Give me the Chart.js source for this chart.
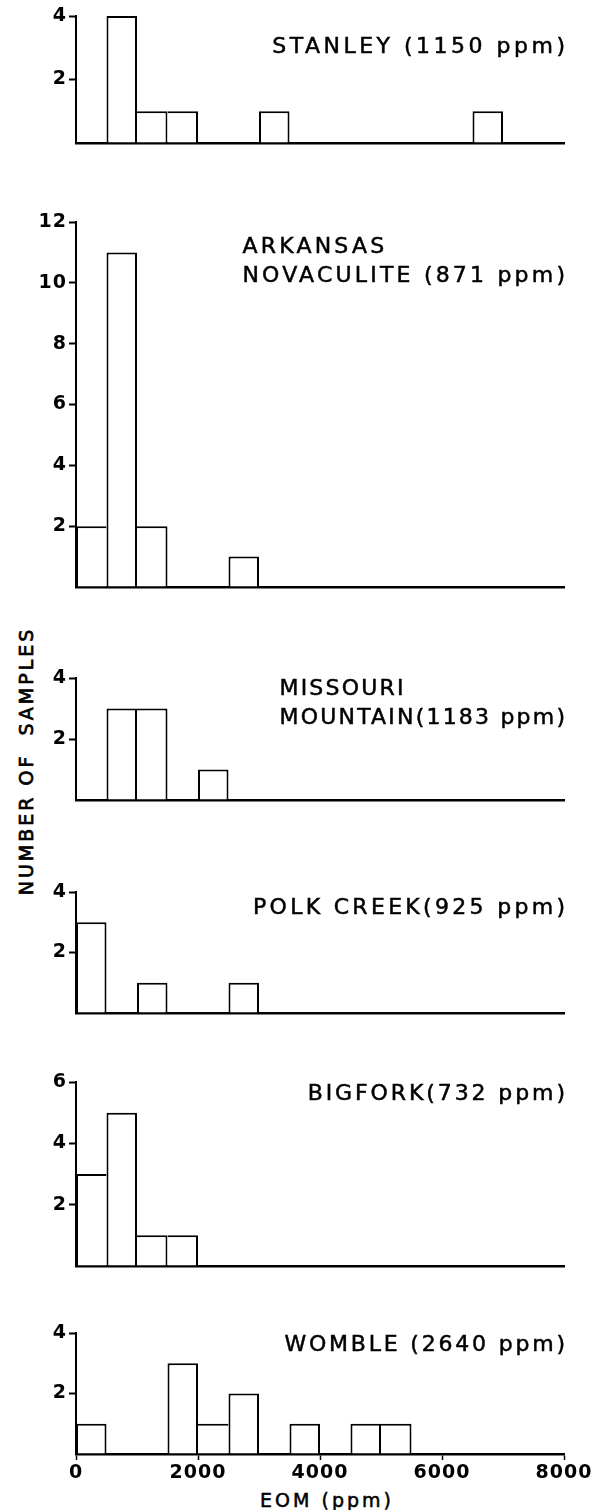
<!DOCTYPE html>
<html><head><meta charset="utf-8">
<script src="https://cdn.jsdelivr.net/npm/chart.js@4/dist/chart.umd.min.js"></script>
<style>
html,body{margin:0;padding:0;background:#fff;}
body{width:602px;height:1510px;position:relative;overflow:hidden;font-family:'DejaVu Sans',sans-serif;color:#000;}
canvas{position:absolute;left:0;}
.t{position:absolute;font-size:22px;letter-spacing:3px;line-height:28.5px;white-space:pre;text-align:left;-webkit-text-stroke:0.5px #000;}
#ytitle{position:absolute;left:26px;top:761px;font-size:19px;letter-spacing:3px;line-height:1;white-space:pre;transform:translate(-50%,-50%) rotate(-90deg);-webkit-text-stroke:0.7px #000;}
#xtitle{position:absolute;left:327px;top:1489px;font-size:19px;letter-spacing:3px;line-height:22px;white-space:pre;transform:translateX(-50%);-webkit-text-stroke:0.5px #000;}
</style></head><body>
<div id="ytitle">NUMBER OF  SAMPLES</div>
<div id="xtitle">EOM (ppm)</div>
<script>
// ---- data ----
const binStarts = [0,500,1000,1500,2000,2500,3000,3500,4000,4500,5000,5500,6000,6500,7000,7500];
const binWidth = 500;
const stanley  = [0,4,1,1,0,0,1,0,0,0,0,0,0,1,0,0];
const arkansas = [2,11,2,0,0,1,0,0,0,0,0,0,0,0,0,0];
const missouri = [0,3,3,0,1,0,0,0,0,0,0,0,0,0,0,0];
const polk     = [3,0,1,0,0,1,0,0,0,0,0,0,0,0,0,0];
const bigfork  = [3,5,1,1,0,0,0,0,0,0,0,0,0,0,0,0];
const womble   = [1,0,0,3,1,2,0,1,0,1,1,0,0,0,0,0];
const yMaxes   = [4,12,4,4,6,4];
const yStep    = 2;
const xTickValues = [0,2000,4000,6000,8000];
const titles = [
  ['STANLEY (1150 ppm)'],
  ['ARKANSAS','NOVACULITE (871 ppm)'],
  ['MISSOURI','MOUNTAIN(1183 ppm)'],
  ['POLK CREEK(925 ppm)'],
  ['BIGFORK(732 ppm)'],
  ['WOMBLE (2640 ppm)']
];
const seriesList = [stanley, arkansas, missouri, polk, bigfork, womble];

// ---- layout (pixels / styles) ----
const layoutPanels = [
  {top:16,  base:143,  titleTop:32,   ls:3.5},
  {top:222, base:587,  titleTop:232,  ls:3.2},
  {top:678, base:800,  titleTop:674,  ls:2.2},
  {top:892, base:1013, titleTop:893,  ls:3.3},
  {top:1082,base:1266, titleTop:1079, ls:2.9},
  {top:1333,base:1454, titleTop:1330, ls:2.8}
];
const PADTOP = 14;

function edge(v, n, side){
  if (!n) return 2;
  if (n > v) return 0;
  if (n < v) return 2;
  return side === 'right' ? 2 : 0;
}

const spacingPlugin = {
  id:'spacing',
  beforeDraw(chart){ chart.ctx.letterSpacing = '1px'; }
};

seriesList.forEach((counts, p) => {
  const L = layoutPanels[p];
  const isLast = p === seriesList.length - 1;
  const H = isLast ? (1510 - L.base) : 4;
  const cv = document.createElement('canvas');
  const h = L.base - L.top + PADTOP + H;
  cv.width = 602; cv.height = h;
  cv.style.width = '602px'; cv.style.height = h + 'px';
  cv.style.top = (L.top - PADTOP) + 'px';
  document.body.appendChild(cv);

  const div = document.createElement('div');
  div.className = 't';
  div.style.letterSpacing = L.ls + 'px';
  div.style.right = (37 - L.ls) + 'px';
  div.style.top = L.titleTop + 'px';
  div.textContent = titles[p].join('\n');
  document.body.appendChild(div);

  new Chart(cv, {
    type:'bar',
    data:{datasets:[{
      data: counts.map((v,i) => ({x: binStarts[i] + binWidth/2, y: v})),
      backgroundColor:'#fff',
      borderColor:'#000',
      borderSkipped:'start',
      borderWidth: ctx => {
        if (ctx.type !== 'data') return 2;
        const i = ctx.dataIndex, v = counts[i];
        return {top:2, left:edge(v, counts[i-1], 'left'), right:edge(v, counts[i+1], 'right'), bottom:0};
      },
      barPercentage:1,
      categoryPercentage:1,
      inflateAmount:0
    }]},
    options:{
      responsive:false, animation:false, devicePixelRatio:1,
      layout:{padding:{top:PADTOP,left:0,right:38,bottom:0}},
      plugins:{legend:{display:false}, tooltip:{enabled:false}},
      scales:{
        x:{
          type:'linear', min:0, max:8000, offset:false,
          afterBuildTicks: s => { s.ticks = xTickValues.map(v => ({value:v})); },
          grid:{display:isLast, offset:false, drawOnChartArea:false, tickLength:6, tickWidth:1.5, tickColor:'#000'},
          border:{display:true, color:'#000', width:2.5},
          ticks:{display:isLast, callback:v => String(v), font:{family:'DejaVu Sans', size:19, weight:'bold'}, color:'#000', padding:2, maxRotation:0, autoSkip:false},
          afterFit: s => { s.height = H; s.paddingLeft = 0; s.paddingRight = 0; }
        },
        y:{
          min:0, max:yMaxes[p],
          grid:{drawOnChartArea:false, offset:false, tickLength:7, tickWidth:2,
                tickColor: c => (c.tick && c.tick.value === 0) ? 'rgba(0,0,0,0)' : '#000'},
          border:{color:'#000', width:2},
          ticks:{stepSize:yStep, callback: v => v === 0 ? '' : String(v), font:{family:'DejaVu Sans', size:19, weight:'bold'}, color:'#000', padding:2},
          afterFit: s => { s.width = 76; s.paddingTop = 0; s.paddingBottom = 0; }
        }
      }
    },
    plugins:[spacingPlugin]
  });
});
</script>
</body></html>
